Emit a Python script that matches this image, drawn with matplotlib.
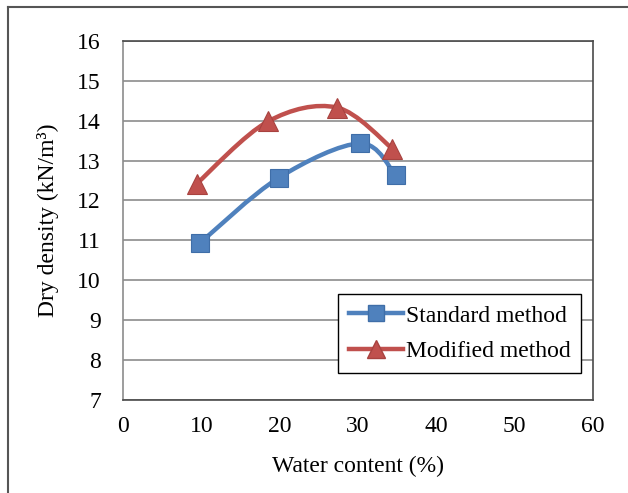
import matplotlib
matplotlib.use("Agg")
import matplotlib.pyplot as plt
from matplotlib.path import Path
from matplotlib.patches import PathPatch
from matplotlib.lines import Line2D

# values
std_w = [9.8, 19.9, 30.3, 34.8]
std_d = [10.93, 12.57, 13.43, 12.63]
mod_w = [9.4, 18.5, 27.3, 34.4]
mod_d = [12.42, 13.98, 14.33, 13.30]

blue = "#4F81BD"
red = "#C0504D"

plt.rcParams['font.family'] = ['Liberation Serif', 'DejaVu Serif']


def smooth_path(xs, ys):
    # Excel-like smoothed line through the points (cubic bezier segments)
    pts = list(zip(xs, ys))
    n = len(pts)
    verts = [pts[0]]
    codes = [Path.MOVETO]
    for i in range(n - 1):
        p0 = pts[i - 1] if i > 0 else pts[i]
        p1 = pts[i]
        p2 = pts[i + 1]
        p3 = pts[i + 2] if i + 2 < n else pts[i + 1]
        c1 = (p1[0] + (p2[0] - p0[0]) / 6, p1[1] + (p2[1] - p0[1]) / 6)
        c2 = (p2[0] - (p3[0] - p1[0]) / 6, p2[1] - (p3[1] - p1[1]) / 6)
        verts += [c1, c2, p2]
        codes += [Path.CURVE4] * 3
    return Path(verts, codes)


fig = plt.figure(figsize=(6.28, 4.93), dpi=100)
ax = fig.add_axes([0.196, 0.189, 0.748, 0.728])

for xs, ys in [(std_w, std_d), (mod_w, mod_d)]:
    col = blue if xs is std_w else red
    ax.add_patch(PathPatch(smooth_path(xs, ys), facecolor="none", edgecolor=col,
                           lw=3.2, zorder=3, capstyle="round"))

ax.plot(std_w, std_d, ls="none", marker="s", ms=13, color=blue,
        mec="#3F6EA8", mew=0.8, zorder=4)
ax.plot(mod_w, mod_d, ls="none", marker="^", ms=14.5, color=red,
        mec="#A8423F", mew=0.8, zorder=4)

ax.set_xlim(0, 60)
ax.set_ylim(7, 16)
ax.set_xticks(range(0, 61, 10))
ax.set_yticks(range(7, 17))
ax.tick_params(length=0, labelsize=17)
ax.tick_params(axis="x", pad=12)
ax.tick_params(axis="y", pad=16)
ax.grid(axis="y", color="#8C8C8C", lw=1.2)
ax.set_axisbelow(True)
for s in ax.spines.values():
    s.set_color("#4A4A4A")
    s.set_linewidth(1.2)
ax.spines["left"].set_color("#8C8C8C")

ax.set_xlabel("Water content (%)", fontsize=17, labelpad=13)
ax.set_ylabel("Dry density (kN/m³)", fontsize=17, labelpad=13)

handles = [
    Line2D([], [], color=blue, lw=3.2, marker="s", ms=12, mec="#3F6EA8"),
    Line2D([], [], color=red, lw=3.2, marker="^", ms=13, mec="#A8423F"),
]
leg = ax.legend(handles, ["Standard method", "Modified method"], loc="lower right",
                bbox_to_anchor=(0.975, 0.075), fontsize=17, frameon=True,
                fancybox=False, edgecolor="black", framealpha=1,
                handlelength=2.3, handletextpad=0.1, borderpad=0.45,
                labelspacing=0.6, borderaxespad=0)
leg.get_frame().set_linewidth(1.0)

# outer chart border (left and top)
fig.add_artist(Line2D([0.013, 0.013], [0, 0.986], transform=fig.transFigure,
                      color="#555555", lw=1.5))
fig.add_artist(Line2D([0.013, 1.0], [0.986, 0.986], transform=fig.transFigure,
                      color="#555555", lw=1.5))

fig.savefig("out.png", dpi=100)
